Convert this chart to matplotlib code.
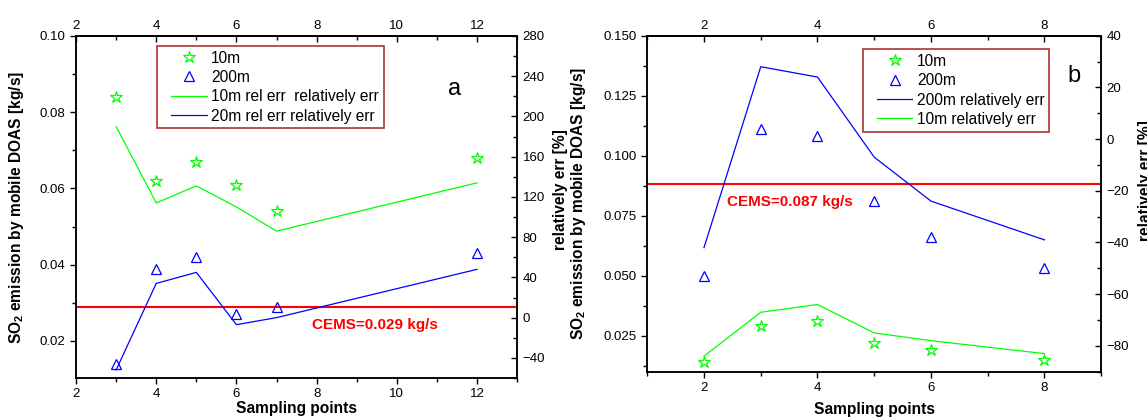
import matplotlib
matplotlib.use("Agg")
import matplotlib.pyplot as plt
from matplotlib.ticker import MultipleLocator, FormatStrFormatter
from matplotlib.lines import Line2D
from matplotlib.legend_handler import HandlerLine2D

plt.rcParams['font.family'] = ['Liberation Sans', 'DejaVu Sans']
plt.rcParams['mathtext.fontset'] = 'custom'
plt.rcParams['mathtext.rm'] = 'Liberation Sans'
plt.rcParams['mathtext.bf'] = 'Liberation Sans:bold'

# ---- data panel a ----
xa = [3, 4, 5, 6, 7, 12]
a_10m = [0.084, 0.062, 0.067, 0.061, 0.054, 0.068]
a_200m = [0.014, 0.039, 0.042, 0.027, 0.029, 0.043]
a_10m_err = [190, 114, 131, 110, 86, 134]
a_20m_err = [-52, 34, 45, -7, 0, 48]
cems_a = 0.029
cems_a_label = "CEMS=0.029 kg/s"

# ---- data panel b ----
xb = [2, 3, 4, 5, 6, 8]
b_10m = [0.014, 0.029, 0.031, 0.022, 0.019, 0.015]
b_200m = [0.050, 0.111, 0.108, 0.081, 0.066, 0.053]
b_200m_err = [-42, 28, 24, -7, -24, -39]
b_10m_err = [-84, -67, -64, -75, -78, -83]
cems_b = 0.088
cems_b_label = "CEMS=0.087 kg/s"

GREEN = '#00FF00'
BLUE = '#0000FF'
RED = '#FF0000'
FRAME = '#990000'
TFS = 9.5
LFS = 11.2
LABFS = 11.2

fig = plt.figure(figsize=(11.47, 4.19), dpi=100)


def style_axes(ax, ax2, xmaj, xmin, ymaj, ymin, y2maj, y2min, yfmt):
    for a in (ax, ax2):
        for s in a.spines.values():
            s.set_linewidth(1.1)
    ax.xaxis.set_major_locator(MultipleLocator(xmaj))
    ax.xaxis.set_minor_locator(MultipleLocator(xmin))
    ax.yaxis.set_major_locator(MultipleLocator(ymaj))
    ax.yaxis.set_minor_locator(MultipleLocator(ymin))
    ax.yaxis.set_major_formatter(FormatStrFormatter(yfmt))
    ax.tick_params(which='both', direction='out', labelsize=TFS, pad=3, width=1.0)
    ax.tick_params(which='major', length=4.5)
    ax.tick_params(which='minor', length=3)
    ax.tick_params(axis='x', top=False)
    ax.tick_params(axis='y', right=False)
    ax2.yaxis.set_major_locator(MultipleLocator(y2maj))
    ax2.yaxis.set_minor_locator(MultipleLocator(y2min))
    ax2.tick_params(which='both', direction='in', labelsize=TFS, pad=4, width=1.0)
    ax2.tick_params(which='major', length=4.5)
    ax2.tick_params(which='minor', length=3)
    sec = ax.secondary_xaxis('top')
    sec.xaxis.set_major_locator(MultipleLocator(xmaj))
    sec.xaxis.set_minor_locator(MultipleLocator(xmin))
    sec.tick_params(which='both', direction='in', labelsize=TFS, pad=3, width=1.0)
    sec.tick_params(which='major', length=4.5)
    sec.tick_params(which='minor', length=3)
    sec.spines['top'].set_linewidth(1.1)


def make_legend(axis, handles, anchor):
    hm = {Line2D: HandlerLine2D(xpad=0.6)}
    leg = axis.legend(handles=handles, loc='upper left', bbox_to_anchor=anchor,
                      borderaxespad=0, fontsize=LFS, frameon=True, fancybox=False,
                      handlelength=2.9, handletextpad=0.3, labelspacing=0.28,
                      borderpad=0.3, handler_map=hm)
    leg.get_frame().set_edgecolor(FRAME)
    leg.get_frame().set_linewidth(1.2)
    return leg


# ================= panel a =================
ax = fig.add_axes([0.0663, 0.0979, 0.3845, 0.8162])
ax.set_xlim(2, 13)
ax.set_ylim(0.0103, 0.10)
ax2 = ax.twinx()
ax2.set_ylim(-60, 280)

ax.axhline(cems_a, color=RED, lw=1.5, zorder=1)
s1, = ax.plot(xa, a_10m, ls='none', marker='*', ms=9, mfc='none', mec=GREEN, mew=0.9, label='10m')
t1, = ax.plot(xa, a_200m, ls='none', marker='^', ms=7.5, mfc='none', mec=BLUE, mew=0.9, label='200m')
l1, = ax2.plot(xa, a_10m_err, color=GREEN, lw=0.9, label='10m rel err  relatively err')
l2, = ax2.plot(xa, a_20m_err, color=BLUE, lw=0.9, label='20m rel err relatively err')

ax.text(7.875, 0.0231, cems_a_label, color=RED, fontsize=11, fontweight='bold', va='baseline', ha='left')
ax.text(0.859, 0.8275, 'a', transform=ax.transAxes, fontsize=17, ha='center', va='baseline')

style_axes(ax, ax2, 2, 1, 0.02, 0.01, 40, 20, '%.2f')

ax.set_ylabel(r'SO$_\mathbf{2}$ emission by mobile DOAS [kg/s]', fontsize=LABFS, fontweight='bold')
ax.yaxis.set_label_coords(-0.113, 0.5)
ax2.set_ylabel('relatively err [%]', fontsize=LABFS, fontweight='bold')
ax2.yaxis.set_label_coords(1.082, 0.55)
ax.set_xlabel('Sampling points', fontsize=LABFS, fontweight='bold')
ax.xaxis.set_label_coords(0.5, -0.068)

make_legend(ax2, [s1, t1, l1, l2], (0.183, 0.971))

# ================= panel b =================
bx = fig.add_axes([0.5643, 0.1129, 0.3958, 0.8019])
bx.set_xlim(1, 9)
bx.set_ylim(0.01, 0.15)
bx2 = bx.twinx()
bx2.set_ylim(-90, 40)

bx.axhline(cems_b, color=RED, lw=1.5, zorder=1)
s2, = bx.plot(xb, b_10m, ls='none', marker='*', ms=9, mfc='none', mec=GREEN, mew=0.9, label='10m')
t2, = bx.plot(xb, b_200m, ls='none', marker='^', ms=7.5, mfc='none', mec=BLUE, mew=0.9, label='200m')
m1, = bx2.plot(xb, b_200m_err, color=BLUE, lw=0.9, label='200m relatively err')
m2, = bx2.plot(xb, b_10m_err, color=GREEN, lw=0.9, label='10m relatively err')

bx.text(2.40, 0.0790, cems_b_label, color=RED, fontsize=11, fontweight='bold', va='baseline', ha='left')
bx.text(0.941, 0.862, 'b', transform=bx.transAxes, fontsize=17, ha='center', va='baseline')

style_axes(bx, bx2, 2, 1, 0.025, 0.0125, 20, 10, '%.3f')

bx.set_ylabel(r'SO$_\mathbf{2}$ emission by mobile DOAS [kg/s]', fontsize=LABFS, fontweight='bold')
bx.yaxis.set_label_coords(-0.131, 0.5)
bx2.set_ylabel('relatively err [%]', fontsize=LABFS, fontweight='bold')
bx2.yaxis.set_label_coords(1.081, 0.57)
bx.set_xlabel('Sampling points', fontsize=LABFS, fontweight='bold')
bx.xaxis.set_label_coords(0.5, -0.09)

make_legend(bx2, [s2, t2, m1, m2], (0.4744, 0.960))

fig.savefig('out.png', dpi=100)
